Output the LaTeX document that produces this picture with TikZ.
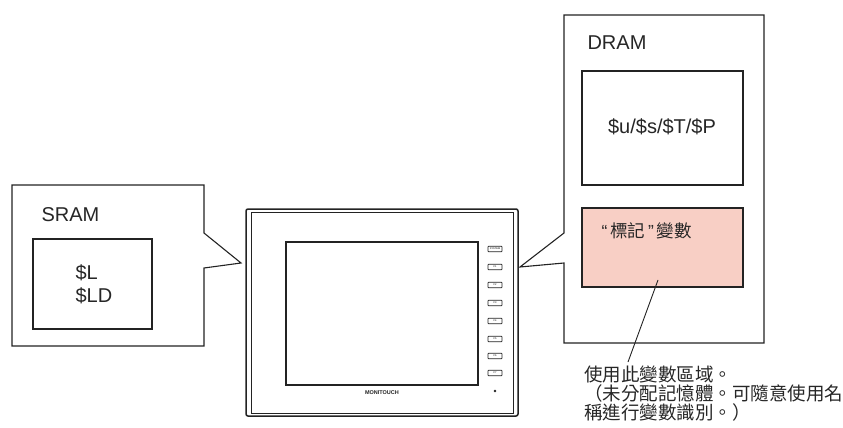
\documentclass[tikz,border=0pt]{standalone}
\usepackage{fontspec}
\setmainfont{Liberation Sans}
\newfontfamily\cjk{Noto Sans CJK TC}
\definecolor{ink}{RGB}{35,35,35}
\definecolor{tagfill}{RGB}{248,207,197}
\begin{document}
\begin{tikzpicture}[x=1pt,y=-1pt,
  outline/.style={draw=ink,line width=1.1pt,line join=miter},
  latin/.style={font=\fontsize{20}{22}\selectfont,text=black!85},
  cjktext/.style={font=\fontsize{17.5}{18.5}\selectfont\cjk,text=black!85},
  fkey/.style={draw=ink,line width=0.6pt,rounded corners=0.6pt,minimum width=14pt,minimum height=5.5pt,inner sep=0pt,font=\fontsize{2.5}{2.5}\selectfont}
]
\useasboundingbox (0,0) rectangle (843,428);

% ---- SRAM callout ----
\draw[outline,fill=white] (12,185) -- (204,185) -- (204,233) -- (241,263) -- (204,268)
  -- (204,346) -- (12,346) -- cycle;
\node[latin,anchor=west] (sram) at (38,215) {SRAM};
\draw[outline] (33,239) rectangle (152,329);
\node[latin,anchor=west,align=left,font=\fontsize{20}{23}\selectfont] (sramvars) at (72,284) {\$L\\\$LD};

% ---- DRAM callout ----
\draw[outline,fill=white] (564,15) -- (764,15) -- (764,343) -- (564,343) -- (564,263)
  -- (520,267) -- (564,233) -- cycle;
\node[latin,anchor=west] (dram) at (584,43) {DRAM};
\draw[outline] (582,71) rectangle (743,185);
\node[latin] (sysvars) at (662,127) {\$u/\$s/\$T/\$P};
\draw[outline,fill=tagfill] (582,208) rectangle (743,287);
\node[cjktext,anchor=west,font=\fontsize{17.5}{18.5}\selectfont] (tagvars) at (598,231)
  {“\,{\cjk 標記}\,”\,{\cjk 變數}};

% ---- annotation ----
\coordinate (leadstart) at (658,280);
\node[cjktext,anchor=north west,align=left,inner sep=0pt,font=\fontsize{18.5}{19}\selectfont\cjk] (note) at (584,366)
  {使用此變數區域。\\（未分配記憶體。可隨意使用名\\稱進行變數識別。）};
\coordinate (leadend) at (628,362);
\draw[ink,line width=0.9pt] (leadstart) -- (leadend);

% ---- operator panel ----
\draw[draw=ink,line width=1.5pt,fill=white,rounded corners=2pt] (246,209) rectangle (518,416);
\draw[draw=ink,line width=0.8pt] (251,212) rectangle (513,413);
\draw[draw=ink,line width=1.1pt] (286,242) rectangle (478,385);
\node[fkey] (k0) at (495,249) {SYSTEM};
\node[fkey] (k1) at (495,267) {F1};
\node[fkey] (k2) at (495,285) {F2};
\node[fkey] (k3) at (495,303) {F3};
\node[fkey] (k4) at (495,321) {F4};
\node[fkey] (k5) at (495,339) {F5};
\node[fkey] (k6) at (495,356) {F6};
\node[fkey] (k7) at (495,373) {F7};
\fill[ink] (495,391) circle (1.4pt);
\node[font=\fontsize{5.5}{6}\selectfont\bfseries,text=ink] (brand) at (382,393) {MONITOUCH};
\end{tikzpicture}
\end{document}
